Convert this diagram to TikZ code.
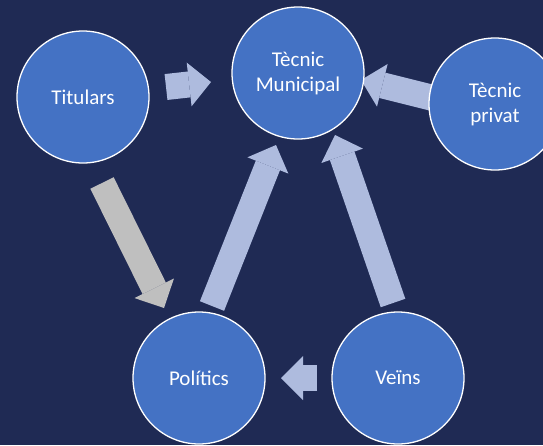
\documentclass[tikz,border=0pt]{standalone}
\usepackage{fontspec}
\setmainfont{Carlito}
\usetikzlibrary{arrows.meta}

\definecolor{bgnavy}{RGB}{31,42,84}
\definecolor{circblue}{RGB}{68,114,196}
\definecolor{arrowlav}{RGB}{174,187,222}
\definecolor{arrowgray}{RGB}{191,191,191}

\begin{document}
\begin{tikzpicture}[x=1pt, y=-1pt,
    actor/.style={circle, draw=white, line width=1.3pt, fill=circblue, minimum size=132pt, inner sep=0pt, text=white, align=center, font=\fontsize{21}{25}\selectfont},
    blockarrow/.style={draw=#1, line width=26pt, -{Triangle[length=22pt, width=44pt, line width=0pt, fill=#1]}},
    blockarrow/.default=arrowlav]

                \fill[bgnavy] (0,0) rectangle (543,445);
                \clip (0,0) rectangle (543,445);

                \coordinate (a1s) at (166,87);
                \coordinate (a1e) at (211,82);
                \coordinate (a2s) at (433,98);
                \coordinate (a2e) at (361,80);
                \coordinate (a3s) at (212,306);
                \coordinate (a3e) at (276,145);
                \coordinate (a4s) at (393,303);
                \coordinate (a4e) at (335,135);
                \coordinate (a5s) at (317,378);
                \coordinate (a5e) at (281,378);
                \coordinate (a6s) at (102,183);
                \coordinate (a6e) at (164,308);

                \draw[blockarrow] (a1s) -- (a1e);
                \draw[blockarrow] (a2s) -- (a2e);
                \draw[blockarrow] (a3s) -- (a3e);
                \draw[blockarrow] (a4s) -- (a4e);
                \draw[blockarrow] (a5s) -- (a5e);
                \draw[blockarrow=arrowgray] (a6s) -- (a6e);

                \node[actor] (tit) at (83,97) {Titulars};
                \node[actor] (mun) at (298,73) {Tècnic\\Municipal};
                \node[actor] (priv) at (495,104) {Tècnic\\privat};
                \node[actor] (pol) at (199,378) {Polítics};
                \node[actor] (vei) at (398,378) {Veïns};

\end{tikzpicture}
\end{document}
